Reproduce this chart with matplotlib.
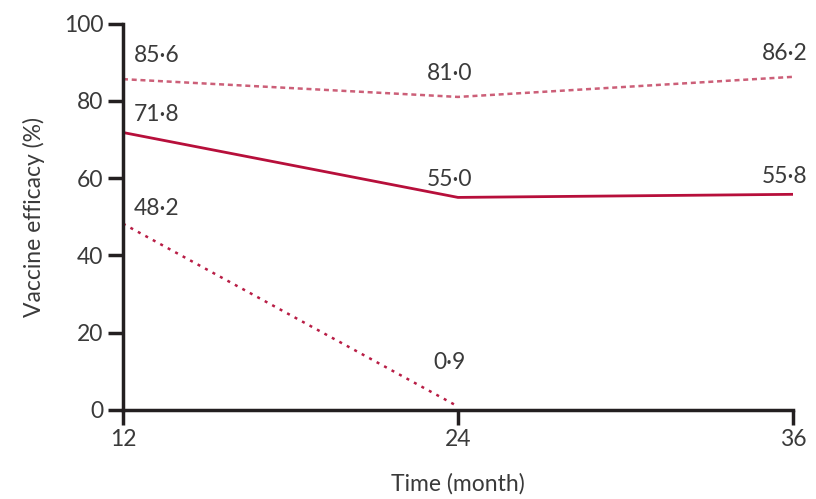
import matplotlib.pyplot as plt

# Dados
meses = [12, 24, 36]
eficacia_alta = [85.6, 81.0, 86.2]
eficacia_media = [71.8, 55.0, 55.8]
meses_baixa = [12, 24]
eficacia_baixa = [48.2, 0.9]

rotulos_alta = ['85·6', '81·0', '86·2']
rotulos_media = ['71·8', '55·0', '55·8']
rotulos_baixa = ['48·2', '0·9']

plt.rcParams['font.family'] = ['Lato', 'DejaVu Sans']

fig = plt.figure(figsize=(8.16, 4.99), dpi=100)
ax = fig.add_axes([0.1507, 0.1784, 0.8211, 0.7745])

ax.plot(meses, eficacia_alta, color='#cc5f78', linestyle=(0, (2.0, 1.5)), linewidth=1.8)
ax.plot(meses, eficacia_media, color='#b70f3b', linestyle='-', linewidth=2.0)
ax.plot(meses_baixa, eficacia_baixa, color='#b81d45', linestyle=(0, (1.2, 2.2)), linewidth=1.8)

texto = '#3a3a3a'
fs = 16.5

def rotular(xs, ys, rotulos, dy):
    for x, y, r in zip(xs, ys, rotulos):
        if x == 12:
            ax.annotate(r, (x, y), xytext=(8, dy), textcoords='offset points',
                        ha='left', va='center', fontsize=fs, color=texto)
        else:
            ax.annotate(r, (x, y), xytext=(-6, dy), textcoords='offset points',
                        ha='center', va='center', fontsize=fs, color=texto)

rotular(meses, eficacia_alta, rotulos_alta, 17)
rotular(meses, eficacia_media, rotulos_media, 13)
rotular(meses_baixa, eficacia_baixa, rotulos_baixa, 11)
# ajuste do rótulo 0·9 (mais alto que a linha)
ax.texts[-1].set_position((-6, 32))

ax.set_xlim(12, 36)
ax.set_ylim(0, 100)
ax.set_xticks(meses)
ax.set_yticks([0, 20, 40, 60, 80, 100])

for lado in ['top', 'right']:
    ax.spines[lado].set_visible(False)
for lado in ['left', 'bottom']:
    ax.spines[lado].set_linewidth(2.5)
    ax.spines[lado].set_color('#231f20')

ax.tick_params(axis='both', direction='out', length=11, width=2.5, color='#231f20',
               labelsize=fs, labelcolor=texto, pad=3)

ax.set_xlabel('Time (month)', fontsize=fs, color=texto, labelpad=16)
ax.set_ylabel('Vaccine efficacy (%)', fontsize=fs, color=texto, labelpad=14)

plt.savefig('out.png', dpi=100)
